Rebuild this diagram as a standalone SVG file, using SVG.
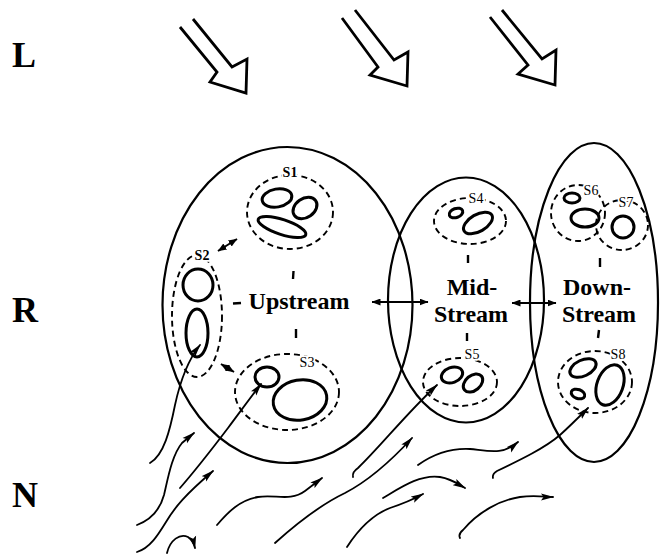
<svg xmlns="http://www.w3.org/2000/svg" width="661" height="556" viewBox="0 0 661 556">
<defs>
<style>
.big{fill:none;stroke:#000;stroke-width:2.2}
.dash{fill:none;stroke:#000;stroke-width:1.9;stroke-dasharray:6 4}
.in{fill:none;stroke:#000;stroke-width:3}
.flow{fill:none;stroke:#000;stroke-width:1.8;stroke-linecap:round;marker-end:url(#ah)}
.hollow{fill:none;stroke:#000;stroke-width:2.8;stroke-linejoin:miter}
.dbl{fill:none;stroke:#000;stroke-width:2;marker-start:url(#dh);marker-end:url(#dh)}
.tick{stroke:#000;stroke-width:2.4}
.t{font-family:"Liberation Serif","Times New Roman",serif;font-weight:bold;fill:#000}
.axis{font-size:36px}
.main{font-size:24px;text-anchor:middle}
.s{font-family:"Liberation Serif","Times New Roman",serif;font-size:14px;text-anchor:middle;fill:#000;stroke:#fff;stroke-width:3.5;paint-order:stroke}
.sb{font-weight:bold}
</style>
<marker id="ah" viewBox="0 0 13 8" refX="12" refY="4" markerWidth="13" markerHeight="8" markerUnits="userSpaceOnUse" orient="auto"><path d="M0,0.5 L13,4 L0,7.5 L2.5,4 Z" fill="#000"/></marker>
<marker id="dh" viewBox="0 0 9 7" refX="8.5" refY="3.5" markerWidth="9" markerHeight="7" markerUnits="userSpaceOnUse" orient="auto-start-reverse"><path d="M0,0 L9,3.5 L0,7 Z" fill="#000"/></marker>
</defs>

<g id="axis-labels">
<text class="t axis" x="12" y="67">L</text>
<text class="t axis" x="12" y="322">R</text>
<text class="t axis" x="12" y="507">N</text>
</g>

<g id="light-arrows">
<polyline class="hollow" points="180,27 217,72 210,82 246,93 247,59 232,67 193,19"/>
<polyline class="hollow" points="342,18 378,67 370,75 407,86 408,52 394,60 355,10"/>
<polyline class="hollow" points="490,17 528,65 518,74 555,85 556,50 542,59 502,10"/>
</g>

<g id="upstream">
<ellipse class="big" cx="287.5" cy="305" rx="125" ry="158"/>
<text class="t main" x="299" y="309">Upstream</text>
</g>

<g id="midstream">
<ellipse class="big" cx="466" cy="300" rx="78" ry="122.5"/>
<text class="t main" x="472" y="295">Mid-</text>
<text class="t main" x="471" y="322">Stream</text>
</g>

<g id="downstream">
<ellipse class="big" cx="594" cy="302.5" rx="64" ry="159.5"/>
<text class="t main" x="597" y="295">Down-</text>
<text class="t main" x="599" y="322">Stream</text>
</g>

<g id="S1">
<ellipse class="dash" cx="290" cy="212" rx="43" ry="37"/>
<ellipse class="in" cx="277" cy="198" rx="15" ry="9" transform="rotate(-10 277 198)"/>
<ellipse class="in" cx="305" cy="208" rx="13" ry="9.5" transform="rotate(-35 305 208)"/>
<ellipse class="in" cx="282" cy="227" rx="25" ry="7.5" transform="rotate(18 282 227)"/>
<text class="s sb" x="290" y="177">S1</text>
</g>

<g id="S2">
<ellipse class="dash" cx="197" cy="316" rx="25" ry="61"/>
<ellipse class="in" cx="198" cy="285" rx="15" ry="16"/>
<ellipse class="in" cx="197" cy="333" rx="11" ry="24"/>
<text class="s sb" x="202" y="260">S2</text>
</g>

<g id="S3">
<ellipse class="dash" cx="287" cy="392" rx="52" ry="38"/>
<ellipse class="in" cx="267" cy="377" rx="12" ry="10"/>
<ellipse class="in" cx="300" cy="400" rx="27" ry="20" transform="rotate(-10 300 400)"/>
<text class="s" x="307" y="367">S3</text>
</g>

<g id="S4">
<ellipse class="dash" cx="470" cy="221" rx="36" ry="23"/>
<ellipse class="in" cx="456" cy="213" rx="7" ry="4.5" transform="rotate(-20 456 213)"/>
<ellipse class="in" cx="478" cy="223" rx="16" ry="8.5" transform="rotate(-30 478 223)"/>
<text class="s" x="476" y="203">S4</text>
</g>

<g id="S5">
<ellipse class="dash" cx="460" cy="382" rx="37" ry="24"/>
<ellipse class="in" cx="452" cy="375" rx="11" ry="7.5" transform="rotate(-20 452 375)"/>
<ellipse class="in" cx="473" cy="383" rx="11" ry="7.5" transform="rotate(-40 473 383)"/>
<text class="s" x="472" y="359">S5</text>
</g>

<g id="S6">
<ellipse class="dash" cx="578" cy="213" rx="27" ry="28"/>
<ellipse class="in" cx="572" cy="198" rx="8" ry="5"/>
<ellipse class="in" cx="585" cy="218" rx="14" ry="9"/>
<text class="s" x="591" y="195">S6</text>
</g>

<g id="S7">
<ellipse class="dash" cx="622" cy="225" rx="26" ry="25"/>
<ellipse class="in" cx="623" cy="227" rx="11" ry="11"/>
<text class="s" x="626" y="207">S7</text>
</g>

<g id="S8">
<ellipse class="dash" cx="595" cy="382" rx="37" ry="31"/>
<ellipse class="in" cx="583" cy="368" rx="14" ry="8" transform="rotate(-25 583 368)"/>
<ellipse class="in" cx="610" cy="385" rx="13" ry="21" transform="rotate(20 610 385)"/>
<ellipse class="in" cx="578" cy="394" rx="7" ry="4.5" transform="rotate(20 578 394)"/>
<text class="s" x="618" y="359">S8</text>
</g>

<g id="connectors">
<line class="dbl" x1="218" y1="251" x2="237" y2="239"/>
<line class="dbl" x1="221" y1="364" x2="234" y2="372"/>
<line class="dbl" x1="372" y1="302" x2="428" y2="302"/>
<line class="dbl" x1="512" y1="303" x2="556" y2="303"/>
<line class="tick" x1="293.5" y1="271" x2="293" y2="279"/>
<line class="tick" x1="296" y1="329" x2="296" y2="338"/>
<line class="tick" x1="233" y1="303.5" x2="241" y2="303"/>
<line class="tick" x1="468" y1="255" x2="468" y2="263"/>
<line class="tick" x1="467" y1="333" x2="467" y2="341"/>
<line class="tick" x1="600" y1="258" x2="600" y2="267"/>
<line class="tick" x1="599" y1="330" x2="598" y2="338"/>
<path class="flow" d="M150,463 C164,455 170,430 175,405 C180,382 188,360 200,345"/>
<path class="flow" d="M180,488 C200,465 215,445 228,428 C240,412 250,398 261,384"/>
<path class="flow" d="M137,525 C150,520 160,510 164,495 C168,478 172,455 182,443 L194,433"/>
<path class="flow" d="M137,552 C150,548 158,535 166,522 C175,507 185,495 213,471"/>
<path class="flow" d="M167,553 C170,540 180,533 188,537 C192,540 194,543 195,548"/>
<path class="flow" d="M217,525 C228,512 240,500 258,497 C275,494 290,502 305,491 L322,478"/>
<path class="flow" d="M275,543 C295,525 320,505 345,493 C370,480 390,462 412,438"/>
<path class="flow" d="M353,477 Q352,472 358,468 C380,447 405,415 437,385"/>
<path class="flow" d="M383,498 C400,488 420,474 440,477 C452,479 458,484 465,488"/>
<path class="flow" d="M347,547 C358,530 372,515 390,508 C405,503 412,500 423,494"/>
<path class="flow" d="M418,465 C432,455 450,448 470,449 C490,451 503,455 518,442"/>
<path class="flow" d="M493,478 Q492,474 497,471 C520,460 545,448 560,435 C570,426 578,418 588,408"/>
<path class="flow" d="M460,538 Q458,534 463,530 C478,512 500,500 520,497 C535,495 545,497 553,497"/>
</g>
</svg>
